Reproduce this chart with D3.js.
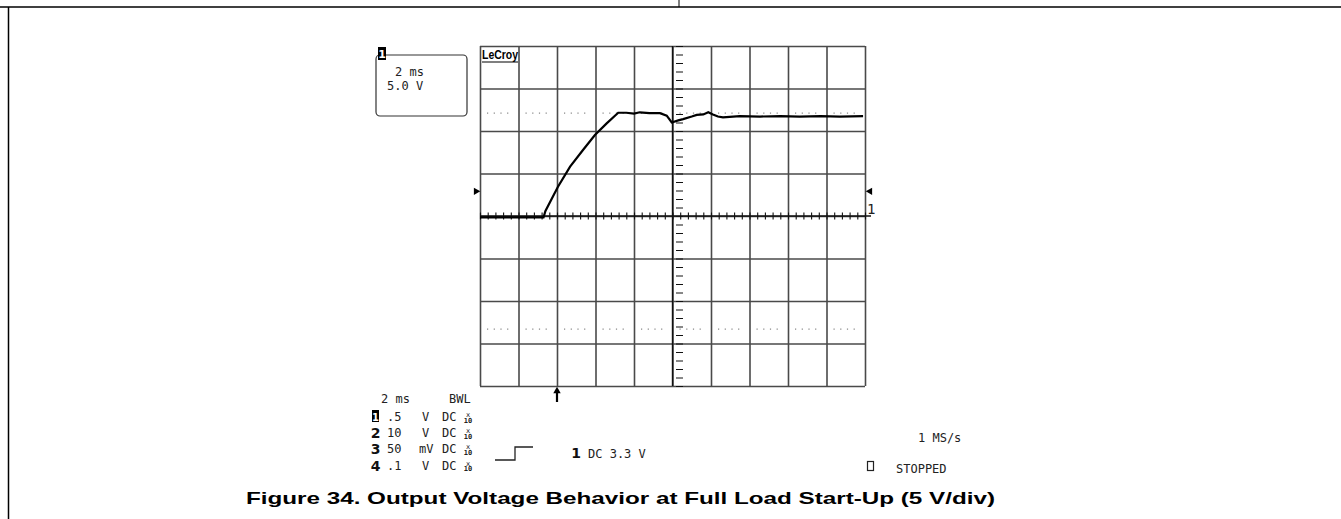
<!DOCTYPE html>
<html>
<head>
<meta charset="utf-8">
<script src="https://cdn.jsdelivr.net/npm/d3@7"></script>
<style>
  body { margin: 0; background: #fff; }
  svg { display: block; }
  .scope { font-family: "DejaVu Sans Mono", monospace; font-size: 12px; fill: #222; }
</style>
</head>
<body>
<svg id="chart" width="1341" height="519"></svg>
<script>
// trace: time (ms, 0 = trigger) and volts
const timeMs = [-4.0, -0.7, -0.6, 0.05, 0.68, 1.35, 1.97, 2.58, 3.18, 3.6, 4.0, 4.3, 4.8, 5.35, 5.7, 5.96, 6.3, 6.55, 7.0, 7.26, 7.6, 7.86, 8.1, 8.36, 8.62, 9.5, 10.55, 11.6, 12.6, 13.7, 14.7, 15.9];
const volts  = [-0.15, -0.15, 0.6, 3.45, 5.8, 7.76, 9.53, 10.9, 12.15, 12.15, 12.05, 12.2, 12.1, 12.1, 11.8, 11.0, 11.25, 11.4, 11.7, 11.9, 11.95, 12.2, 11.95, 11.7, 11.6, 11.75, 11.7, 11.75, 11.7, 11.75, 11.7, 11.75];

const timeDomain = [-4, 16];   // 2 ms/div, 10 div
const voltDomain = [-20, 20];  // 5 V/div, 8 div
const cursorLevels = [12.1, -13.3];
const markerLevel = 2.9;
const triggerTime = 0;

const chTable = [
  {ch: "1", val: ".5", unit: "V"},
  {ch: "2", val: "10", unit: "V"},
  {ch: "3", val: "50", unit: "mV"},
  {ch: "4", val: ".1", unit: "V"}
];

const svg = d3.select("#chart");

// page frame
svg.append("line").attr("x1", 0).attr("x2", 1341).attr("y1", 7).attr("y2", 7).attr("stroke", "#000").attr("stroke-width", 1.5);
svg.append("line").attr("x1", 679).attr("x2", 679).attr("y1", 0).attr("y2", 7).attr("stroke", "#000").attr("stroke-width", 1);
svg.append("line").attr("x1", 8.5).attr("x2", 8.5).attr("y1", 7).attr("y2", 519).attr("stroke", "#000").attr("stroke-width", 1.5);

const x = d3.scaleLinear().domain(timeDomain).range([480, 865]);
const y = d3.scaleLinear().domain(voltDomain).range([386, 46]);

// grid
const grid = svg.append("g");
grid.append("g")
    .attr("transform", "translate(0,386)")
    .call(d3.axisBottom(x).tickValues(d3.range(-4, 16.1, 2)).tickSize(-340).tickFormat(""))
    .call(g => g.select(".domain").remove())
    .call(g => g.selectAll("line").attr("stroke", "#4a4a4a").attr("stroke-width", 1.6));
grid.append("g")
    .attr("transform", "translate(480,0)")
    .call(d3.axisLeft(y).tickValues(d3.range(-20, 20.1, 5)).tickSize(-385).tickFormat(""))
    .call(g => g.select(".domain").remove())
    .call(g => g.selectAll("line").attr("stroke", "#4a4a4a").attr("stroke-width", 1.6));

// dotted cursor rows, broken at each division
cursorLevels.forEach(v => {
  d3.range(-4, 16, 2).forEach(t => {
    grid.append("line")
        .attr("x1", x(t) + 7).attr("x2", x(t + 2) - 5)
        .attr("y1", y(v)).attr("y2", y(v))
        .attr("stroke", "#888").attr("stroke-width", 1.2)
        .attr("stroke-dasharray", "1.2,5.5");
  });
});

// center axes with minor ticks
grid.append("line").attr("x1", x(timeDomain[0])).attr("x2", x(timeDomain[1]) + 6)
    .attr("y1", y(0)).attr("y2", y(0)).attr("stroke", "#111").attr("stroke-width", 1.6);
grid.append("line").attr("x1", x(6)).attr("x2", x(6))
    .attr("y1", y(20)).attr("y2", y(-20)).attr("stroke", "#111").attr("stroke-width", 1.4);
grid.append("g").attr("transform", `translate(0,${y(0) + 3.5})`)
    .call(d3.axisBottom(x).tickValues(d3.range(-4, 16.01, 0.4)).tickSize(-7).tickFormat(""))
    .call(g => g.select(".domain").remove())
    .call(g => g.selectAll("line").attr("stroke", "#111").attr("stroke-width", 1.1));
grid.append("g").attr("transform", `translate(${x(6) + 3.5},0)`)
    .call(d3.axisLeft(y).tickValues(d3.range(-20, 20.01, 1)).tickSize(-7).tickFormat(""))
    .call(g => g.select(".domain").remove())
    .call(g => g.selectAll("line").attr("stroke", "#111").attr("stroke-width", 1));

// trace
const line = d3.line().x((d, i) => x(timeMs[i])).y(d => y(d));
svg.append("path").datum(volts)
    .attr("d", line)
    .attr("fill", "none").attr("stroke", "#000").attr("stroke-width", 2.2);

// level markers and channel label
svg.append("path").attr("d", d3.symbol(d3.symbolTriangle, 24)())
    .attr("transform", `translate(${x(timeDomain[0]) - 4},${y(markerLevel)}) rotate(90)`).attr("fill", "#000");
svg.append("path").attr("d", d3.symbol(d3.symbolTriangle, 24)())
    .attr("transform", `translate(${x(timeDomain[1]) + 5},${y(markerLevel)}) rotate(-90)`).attr("fill", "#000");
svg.append("text").attr("class", "scope").attr("x", x(timeDomain[1]) + 2).attr("y", y(markerLevel) + 23)
    .style("font-size", "14px").text("1");

// trigger arrow
const tx = x(triggerTime);
svg.append("line").attr("x1", tx).attr("x2", tx).attr("y1", 391).attr("y2", 402).attr("stroke", "#000").attr("stroke-width", 2.2);
svg.append("path").attr("d", d3.symbol(d3.symbolTriangle, 24)()).attr("transform", `translate(${tx},391)`).attr("fill", "#000");

// LeCroy logo
svg.append("text").attr("x", 482).attr("y", 59)
    .style("font-family", "Liberation Sans, Arial, sans-serif").style("font-size", "12px").style("font-weight", "bold")
    .attr("textLength", 36).attr("lengthAdjust", "spacingAndGlyphs").text("LeCroy");
svg.append("line").attr("x1", 482).attr("x2", 518).attr("y1", 62).attr("y2", 62).attr("stroke", "#000").attr("stroke-width", 1.2);

// zoom box top-left
svg.append("rect").attr("x", 376).attr("y", 55).attr("width", 91).attr("height", 61).attr("rx", 4)
    .attr("fill", "none").attr("stroke", "#333").attr("stroke-width", 1.2);
svg.append("rect").attr("x", 378).attr("y", 47).attr("width", 8).attr("height", 13).attr("fill", "#000");
svg.append("text").attr("x", 382).attr("y", 58).attr("text-anchor", "middle")
    .style("font-family", "DejaVu Sans, sans-serif").style("font-size", "11px").style("font-weight", "bold").attr("fill", "#fff").text("1");
svg.append("text").attr("class", "scope").attr("x", 395).attr("y", 76).text("2 ms");
svg.append("text").attr("class", "scope").attr("x", 387).attr("y", 90).text("5.0 V");

// bottom-left status block
svg.append("text").attr("class", "scope").attr("x", 381).attr("y", 403).text("2 ms");
svg.append("text").attr("class", "scope").attr("x", 449).attr("y", 403).text("BWL");

const rows = svg.append("g").selectAll("g").data(chTable).join("g")
    .attr("transform", (d, i) => `translate(0,${421 + i * 16.2})`);
rows.each(function(d, i) {
  const g = d3.select(this);
  if (i === 0) {
    g.append("rect").attr("x", 372).attr("y", -11).attr("width", 7).attr("height", 12).attr("fill", "#000");
    g.append("text").attr("x", 375.5).attr("y", 0).attr("text-anchor", "middle")
        .style("font-family", "DejaVu Sans, sans-serif").style("font-size", "10px").style("font-weight", "bold").attr("fill", "#fff").text(d.ch);
  } else {
    g.append("text").attr("x", 375.5).attr("y", 1).attr("text-anchor", "middle")
        .style("font-family", "DejaVu Sans, sans-serif").style("font-size", "14px").style("font-weight", "bold").attr("fill", "#111").text(d.ch);
  }
  g.append("text").attr("class", "scope").attr("x", 387).attr("y", 0).text(d.val);
  g.append("text").attr("class", "scope").attr("x", d.unit === "mV" ? 419 : 422).attr("y", 0).text(d.unit);
  g.append("text").attr("class", "scope").attr("x", 442).attr("y", 0).text("DC");
  g.append("text").attr("class", "scope").attr("x", 468).attr("y", -4).attr("text-anchor", "middle").style("font-size", "7px").text("x");
  g.append("text").attr("class", "scope").attr("x", 468).attr("y", 1.5).attr("text-anchor", "middle").style("font-size", "7px").style("font-weight", "bold").text("10");
});

// trigger step symbol and setup
svg.append("path").attr("d", "M495,460H515V447H533").attr("fill", "none").attr("stroke", "#222").attr("stroke-width", 1.3);
svg.append("text").attr("x", 576).attr("y", 458).attr("text-anchor", "middle")
    .style("font-family", "DejaVu Sans, sans-serif").style("font-size", "14px").style("font-weight", "bold").attr("fill", "#111").text("1");
svg.append("text").attr("class", "scope").attr("x", 588).attr("y", 458).text("DC 3.3 V");

svg.append("text").attr("class", "scope").attr("x", 918).attr("y", 442).text("1 MS/s");
svg.append("rect").attr("x", 867.5).attr("y", 461.5).attr("width", 6).attr("height", 9).attr("fill", "none").attr("stroke", "#222").attr("stroke-width", 1.2);
svg.append("text").attr("class", "scope").attr("x", 896).attr("y", 473).text("STOPPED");

// caption
svg.append("text").attr("x", 246).attr("y", 504)
    .style("font-family", "Liberation Sans, Arial, sans-serif").style("font-size", "17px").style("font-weight", "bold")
    .attr("textLength", 749).attr("lengthAdjust", "spacingAndGlyphs")
    .text("Figure 34. Output Voltage Behavior at Full Load Start-Up (5 V/div)");
</script>
</body>
</html>
